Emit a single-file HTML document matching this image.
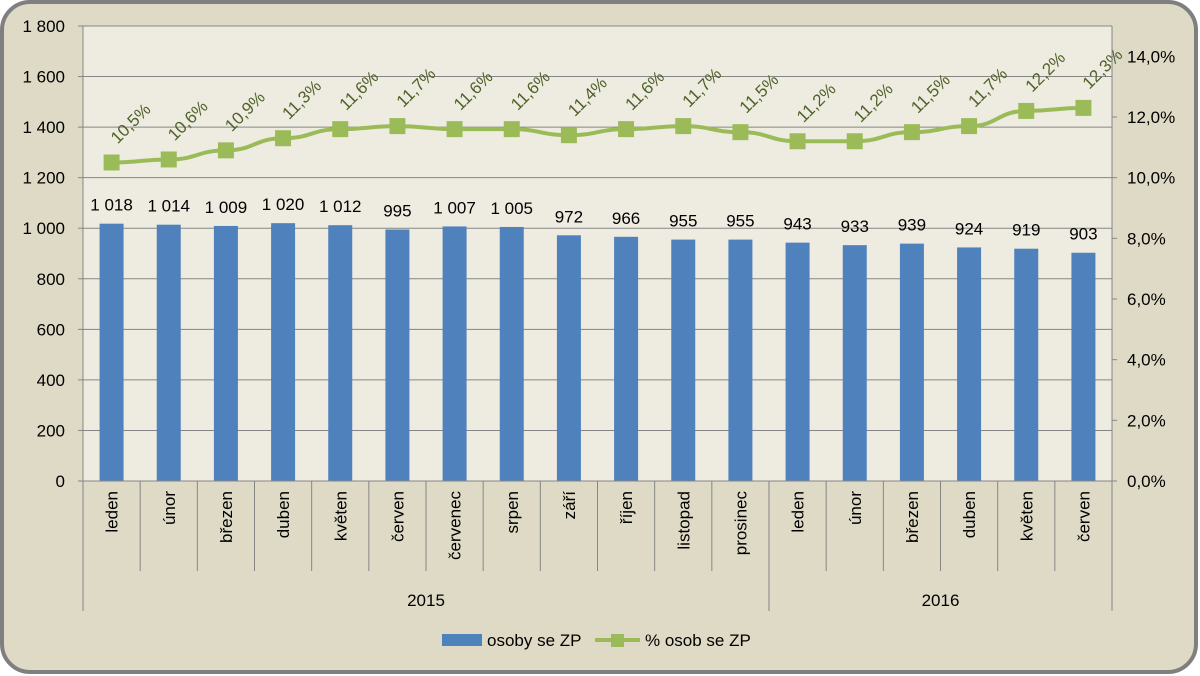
<!DOCTYPE html>
<html><head><meta charset="utf-8"><style>
body{margin:0;background:#fff}
svg{display:block;font-family:"Liberation Sans",sans-serif}
</style></head><body>
<svg id="c" width="1200" height="676" xmlns="http://www.w3.org/2000/svg">
<rect x="2" y="2" width="1194" height="670" rx="28" fill="#dedac5" stroke="#7f7f7f" stroke-width="4"/>
<rect x="83" y="26" width="1029" height="455" fill="#eeece1"/>
<g id="grid"></g><g id="bars"></g><g id="line"></g><g id="axes"></g>
<g>
<rect x="442" y="634" width="40" height="12" fill="#4f81bd"/>
<text x="487" y="646" font-size="17" fill="#000">osoby se ZP</text>
<line x1="595" y1="640" x2="640" y2="640" stroke="#9bbb59" stroke-width="4"/>
<rect x="611" y="634" width="13" height="13" fill="#9bbb59"/>
<text x="645" y="646" font-size="17" fill="#000">% osob se ZP</text>
</g>
</svg>
<script>
const months=["leden","únor","březen","duben","květen","červen","červenec","srpen","září","říjen","listopad","prosinec","leden","únor","březen","duben","květen","červen"];
const counts=[1018,1014,1009,1020,1012,995,1007,1005,972,966,955,955,943,933,939,924,919,903];
const shares=[10.5,10.6,10.9,11.3,11.6,11.7,11.6,11.6,11.4,11.6,11.7,11.5,11.2,11.2,11.5,11.7,12.2,12.3];
const years=["2015","2016"];
const yearCounts=[12,6];
const leftTicks=[0,200,400,600,800,1000,1200,1400,1600,1800];
const rightTicks=[0,2,4,6,8,10,12,14];
const NS="http://www.w3.org/2000/svg";
const L=83,R=1112,T=26,B=481;
const n=months.length,cw=(R-L)/n;
const yL=v=>B-(v/1800)*(B-T);
const yR=v=>B-(v/15)*(B-T);
const xc=i=>L+cw*(i+0.5);
function mk(p,tag,a){const e=document.createElementNS(NS,tag);for(const k in a)e.setAttribute(k,a[k]);p.appendChild(e);return e;}
const fmt=v=>v>=1000?Math.floor(v/1000)+" "+String(v%1000).padStart(3,"0"):String(v);
const G=document.getElementById("grid"),BA=document.getElementById("bars"),LN=document.getElementById("line"),AX=document.getElementById("axes");
leftTicks.forEach(t=>{
  const y=yL(t);
  if(t>0){const g=mk(G,"line",{x1:L,x2:R,y1:y,y2:y,stroke:"#868686","stroke-width":1});
  
  }
  const tx=mk(AX,"text",{x:65,y:y+6,"font-size":17,"text-anchor":"end",fill:"#000"});tx.textContent=fmt(t);
  
  
  mk(AX,"line",{x1:L-5,x2:L,y1:y,y2:y,stroke:"#868686"});
});
rightTicks.forEach(t=>{
  const y=yR(t);
  const tx=mk(AX,"text",{x:1127,y:y+6,"font-size":17,fill:"#000"});tx.textContent=t.toFixed(1).replace(".",",")+"%";
  
  
  mk(AX,"line",{x1:R,x2:R+5,y1:y,y2:y,stroke:"#868686"});
});
mk(AX,"line",{x1:L,x2:L,y1:T,y2:B,stroke:"#868686"});
mk(AX,"line",{x1:R,x2:R,y1:T,y2:B,stroke:"#868686"});
mk(AX,"line",{x1:L,x2:R,y1:B,y2:B,stroke:"#868686"});
const bw=24;
counts.forEach((v,i)=>{
  const r=mk(BA,"rect",{x:xc(i)-bw/2,y:yL(v),width:bw,height:B-yL(v),fill:"#4f81bd"});
  
  
  const t=mk(BA,"text",{x:xc(i),y:yL(v)-13,"font-size":17,"text-anchor":"middle",fill:"#000"});t.textContent=fmt(v);
  
  
  const m=mk(AX,"text",{transform:`translate(${xc(i)+6},${B+10}) rotate(-90)`,"font-size":17,"text-anchor":"end",fill:"#000"});m.textContent=months[i];
  
  
  mk(AX,"line",{x1:L+cw*i,x2:L+cw*i,y1:B,y2:571,stroke:"#868686"});
});
let acc=0;
years.forEach((yname,k)=>{
  const x0=L+cw*acc;acc+=yearCounts[k];const x1=L+cw*acc;
  mk(AX,"line",{x1:x0,x2:x0,y1:B,y2:611,stroke:"#868686"});
  mk(AX,"line",{x1:x1,x2:x1,y1:B,y2:611,stroke:"#868686"});
  const t=mk(AX,"text",{x:(x0+x1)/2,y:606,"font-size":17,"text-anchor":"middle",fill:"#000"});t.textContent=yname;
  
  
});
const pts=shares.map((v,i)=>[xc(i),yR(v)]);
let d="M"+pts[0].join(",");
for(let i=1;i<pts.length;i++){const p0=pts[i-1],p1=pts[i];const mx=(p0[0]+p1[0])/2;d+=` C${mx},${p0[1]} ${mx},${p1[1]} ${p1[0]},${p1[1]}`;}
const path=mk(LN,"path",{d:d,fill:"none",stroke:"#9bbb59","stroke-width":4});


shares.forEach((v,i)=>{
  const [x,y]=pts[i];
  const m=mk(LN,"rect",{x:x-8,y:y-8,width:16,height:16,fill:"#9bbb59"});
  
  
  const t=mk(LN,"text",{transform:`translate(${x+6},${y-18}) rotate(-45)`,"font-size":17,fill:"#4f6228"});t.textContent=v.toFixed(1).replace(".",",")+"%";
  
  
});
</script>
</body></html>
